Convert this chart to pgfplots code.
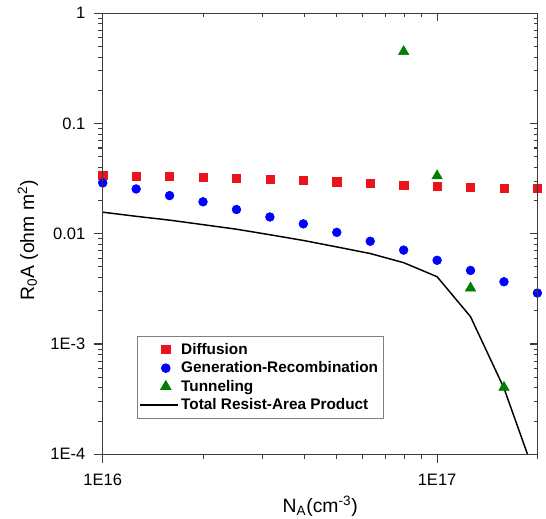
\documentclass[border=0pt]{standalone}
\usepackage{pgfplots}
\pgfplotsset{compat=1.18}
\usepackage{fontspec}
\setmainfont{Liberation Sans}
\definecolor{cred}{RGB}{236,20,28}
\definecolor{cblue}{RGB}{0,0,255}
\definecolor{cgreen}{RGB}{0,128,0}
\definecolor{axgray}{RGB}{60,60,60}
\pgfplotsset{
  mymarkleg/.style={legend image code/.code={\draw[##1] plot coordinates {(19pt,0pt)};}},
  mylineleg/.style={legend image code/.code={\draw[##1] (0pt,0pt) -- (28pt,0pt);}},
}
\begin{document}
\begin{tikzpicture}
\begin{axis}[name=ax,
  scale only axis, width=326.25pt, height=330.75pt,
  xmode=log, ymode=log,
  xmin=1e16, xmax=2e17, ymin=1e-4, ymax=1,
  axis line style={axgray, line width=0.9pt},
  tick style={axgray, line width=0.8pt},
  major tick length=6.5pt, minor tick length=3.2pt,
  xtick={1e16,1e17}, ytick={1e-4,1e-3,1e-2,1e-1,1},
  minor xtick={2e16,3e16,4e16,5e16,6e16,7e16,8e16,9e16,2e17},
  minor ytick={2e-4,3e-4,4e-4,5e-4,6e-4,7e-4,8e-4,9e-4,
               2e-3,3e-3,4e-3,5e-3,6e-3,7e-3,8e-3,9e-3,
               2e-2,3e-2,4e-2,5e-2,6e-2,7e-2,8e-2,9e-2,
               0.2,0.3,0.4,0.5,0.6,0.7,0.8,0.9},
  /pgf/number format/assume math mode=true,
  tick align=outside, xtick pos=left, ytick pos=left,
  xticklabels={1E16,1E17},
  yticklabels={1E-4,1E-3,0.01,0.1,1},
  tick label style={font=\fontsize{12.4}{15}\selectfont},
  xticklabel style={yshift=-5pt},
  yticklabel style={xshift=-3pt},
  xlabel={N\textsubscript{A}(cm\textsuperscript{-3})},
  ylabel={R\textsubscript{0}A (ohm m\textsuperscript{2})},
  label style={font=\fontsize{14.5}{17}\selectfont},
  xlabel style={at={(axis description cs:0.5,0)}, anchor=north, yshift=-28pt},
  ylabel style={at={(axis description cs:0,0.485)}, anchor=south, yshift=45pt},
  legend style={at={(rel axis cs:0.078,0.268)}, anchor=north west,
    draw=gray, line width=0.6pt, font=\bfseries\fontsize{11.5}{14.3}\selectfont,
    inner xsep=2pt, inner ysep=3pt, row sep=0pt},
  legend cell align=left,
]
\addplot[only marks, mark=square*, mark size=3.1pt, color=cred, mymarkleg]
  coordinates {
  (1e16,0.0339) (1.2589e16,0.0334) (1.5849e16,0.0333) (1.9953e16,0.0327)
  (2.5119e16,0.0321) (3.1623e16,0.0312) (3.9811e16,0.0305) (5.0119e16,0.0297)
  (6.3096e16,0.0287) (7.9433e16,0.0277) (1e17,0.0269) (1.2589e17,0.0264)
  (1.5849e17,0.0258) (1.9953e17,0.0257)};
\addlegendentry{Diffusion}
\addplot[only marks, mark=*, mark size=3.3pt, color=cblue, mymarkleg]
  coordinates {
  (1e16,0.0289) (1.2589e16,0.0255) (1.5849e16,0.0222) (1.9953e16,0.0195)
  (2.5119e16,0.0166) (3.1623e16,0.0142) (3.9811e16,0.0123) (5.0119e16,0.0103)
  (6.3096e16,0.00855) (7.9433e16,0.00711) (1e17,0.00575) (1.2589e17,0.00465)
  (1.5849e17,0.00367) (1.9953e17,0.00290)};
\addlegendentry{Generation-Recombination}
\addplot[only marks, mark=triangle*, mark size=4.5pt, color=cgreen, mymarkleg]
  coordinates {
  (7.9433e16,0.449) (1e17,0.0335) (1.2589e17,0.00322) (1.5849e17,4.04e-4)};
\addlegendentry{Tunneling}
\addplot[black, line width=1.1pt, mark=none, mylineleg]
  coordinates {
  (1e16,0.0157) (1.2589e16,0.0144) (1.5849e16,0.0133) (1.9953e16,0.0121)
  (2.5119e16,0.0110) (3.1623e16,0.0098) (3.9811e16,0.0087) (5.0119e16,0.0076)
  (6.3096e16,0.00662) (7.9433e16,0.00547) (1e17,0.00408) (1.2589e17,0.00177)
  (1.5849e17,3.98e-4) (1.9953e17,5.6e-5)};
\addlegendentry{Total Resist-Area Product}
\end{axis}
\begin{axis}[
  scale only axis, width=326.25pt, height=330.75pt,
  xmode=log, ymode=log,
  xmin=1e16, xmax=2e17, ymin=1e-4, ymax=1,
  axis line style={axgray, line width=0.9pt},
  tick style={axgray, line width=0.8pt},
  major tick length=5.8pt, minor tick length=3pt,
  xtick={1e16,1e17}, ytick={1e-4,1e-3,1e-2,1e-1,1},
  minor xtick={2e16,3e16,4e16,5e16,6e16,7e16,8e16,9e16,2e17},
  minor ytick={2e-4,3e-4,4e-4,5e-4,6e-4,7e-4,8e-4,9e-4,
               2e-3,3e-3,4e-3,5e-3,6e-3,7e-3,8e-3,9e-3,
               2e-2,3e-2,4e-2,5e-2,6e-2,7e-2,8e-2,9e-2,
               0.2,0.3,0.4,0.5,0.6,0.7,0.8,0.9},
  tick align=inside, xtick pos=right, ytick pos=right,
  xticklabels={}, yticklabels={},
]
\end{axis}
\pgfresetboundingbox
\path ([shift={(-77pt,-47.8pt)}]ax.south west) rectangle ([shift={(332.5pt,340.7pt)}]ax.south west);
\end{tikzpicture}
\end{document}
